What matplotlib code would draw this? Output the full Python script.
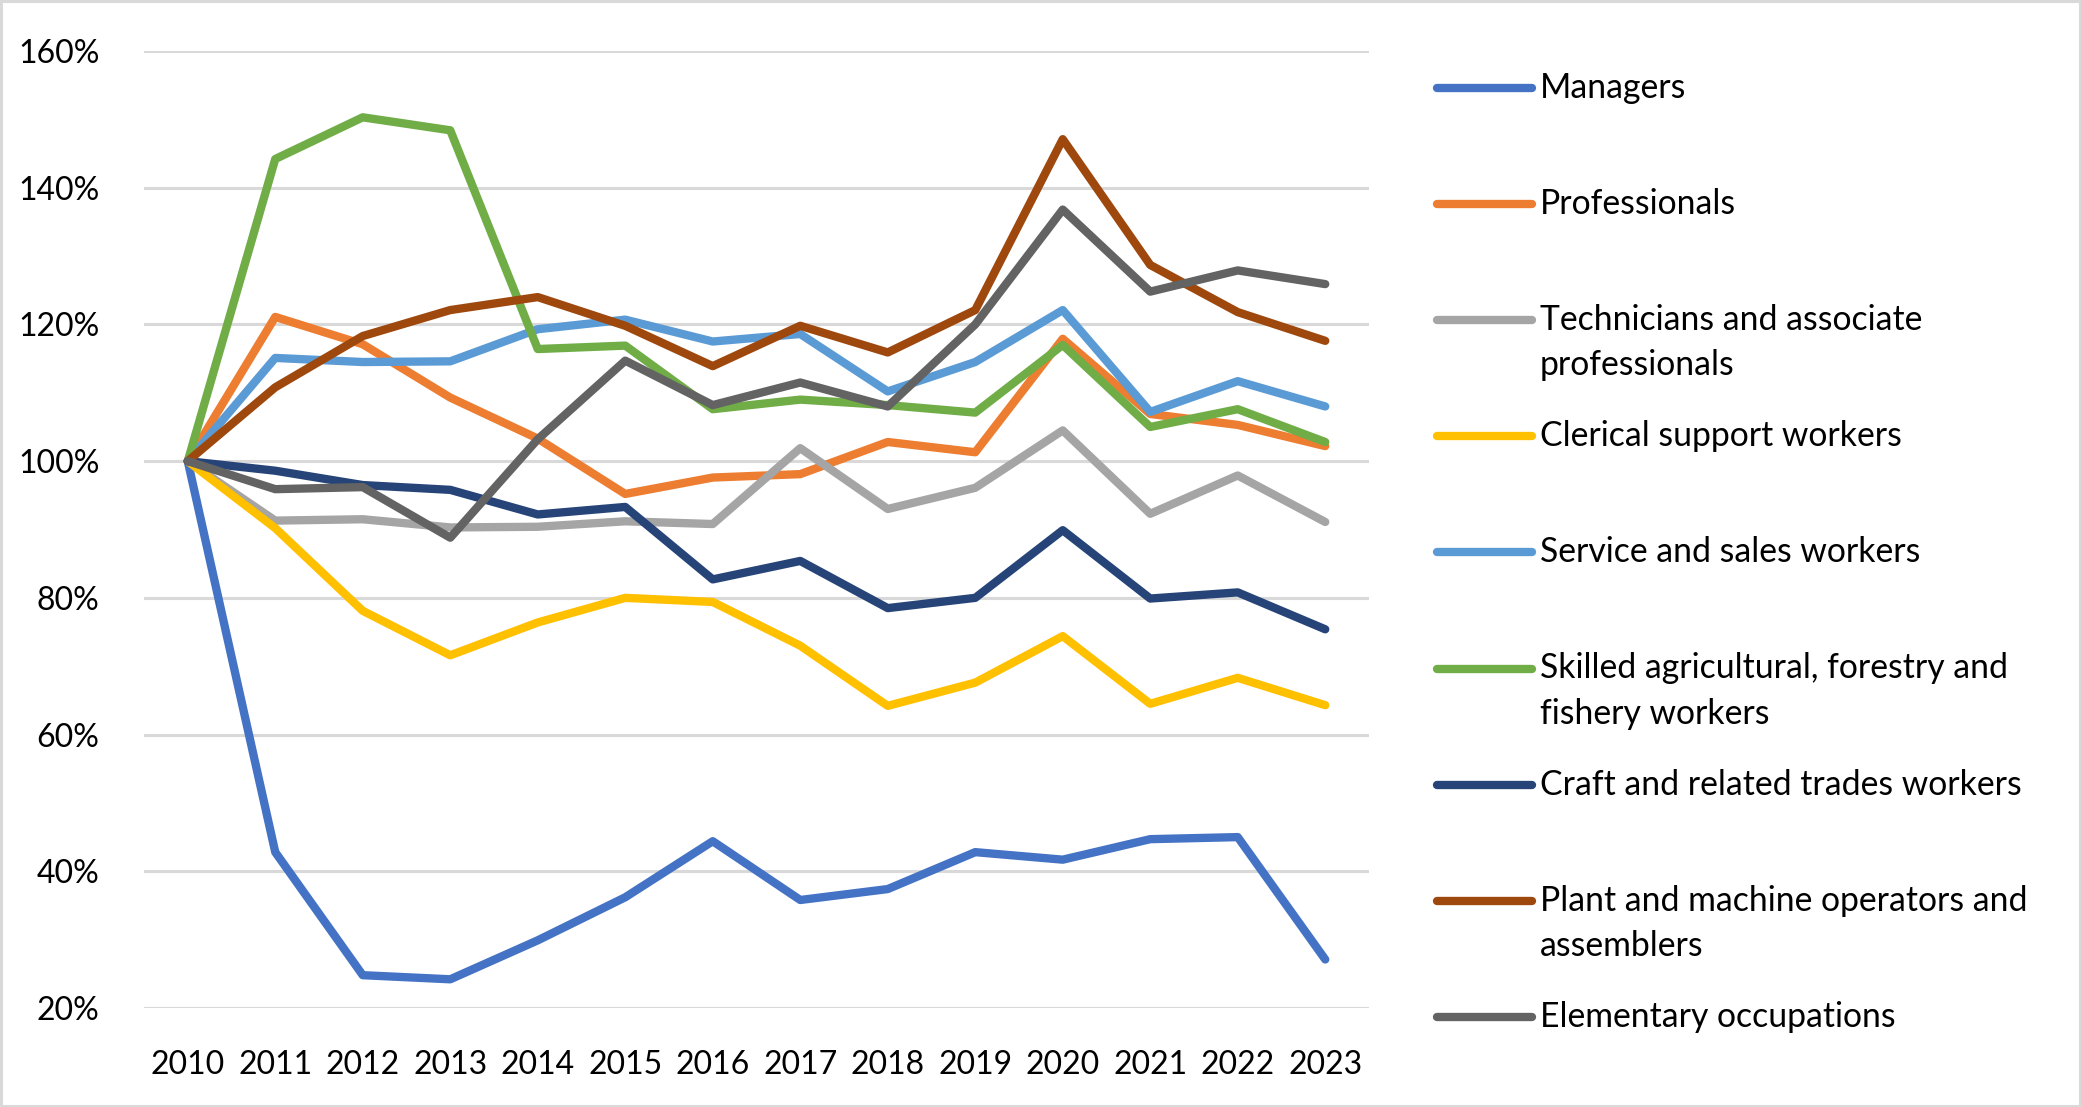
import matplotlib
matplotlib.use("Agg")
import matplotlib.pyplot as plt
from matplotlib.lines import Line2D
from matplotlib.patches import Rectangle
from matplotlib.ticker import FuncFormatter

plt.rcParams['font.family'] = ['Lato', 'DejaVu Sans']

years = list(range(2010, 2024))

# index, 2010 = 100%
managers = [100, 42.8, 24.8, 24.2, 29.9, 36.2, 44.4, 35.8, 37.4, 42.8, 41.7, 44.7, 45.0, 27.1]
professionals = [100, 121.1, 117.1, 109.3, 103.3, 95.2, 97.6, 98.1, 102.8, 101.3, 117.9, 106.9, 105.3, 102.2]
technicians = [100, 91.3, 91.5, 90.3, 90.4, 91.2, 90.8, 101.9, 93.0, 96.1, 104.5, 92.3, 97.9, 91.1]
clerical = [100, 90.2, 78.1, 71.6, 76.4, 80.0, 79.4, 73.0, 64.2, 67.6, 74.4, 64.5, 68.3, 64.3]
service = [100, 115.1, 114.5, 114.6, 119.3, 120.7, 117.5, 118.6, 110.2, 114.5, 122.1, 107.2, 111.7, 108.0]
skilled = [100, 144.2, 150.3, 148.4, 116.4, 116.9, 107.6, 109.0, 108.2, 107.1, 117.0, 105.0, 107.6, 102.8]
craft = [100, 98.6, 96.5, 95.8, 92.2, 93.3, 82.7, 85.4, 78.5, 80.0, 89.9, 79.9, 80.8, 75.4]
plant = [100, 110.8, 118.3, 122.1, 124.0, 119.8, 113.9, 119.8, 115.9, 122.1, 147.1, 128.7, 121.8, 117.6]
elementary = [100, 95.9, 96.2, 88.8, 103.2, 114.7, 108.2, 111.5, 108.0, 120.0, 136.8, 124.8, 127.9, 125.9]

series = [
    ("Managers", managers, "#4472C4"),
    ("Professionals", professionals, "#ED7D31"),
    ("Technicians and associate\nprofessionals", technicians, "#A5A5A5"),
    ("Clerical support workers", clerical, "#FFC000"),
    ("Service and sales workers", service, "#5B9BD5"),
    ("Skilled agricultural, forestry and\nfishery workers", skilled, "#70AD47"),
    ("Craft and related trades workers", craft, "#264478"),
    ("Plant and machine operators and\nassemblers", plant, "#9E480E"),
    ("Elementary occupations", elementary, "#636363"),
]

W, H = 2081, 1107
fig = plt.figure(figsize=(W / 100, H / 100), dpi=100)
ax = fig.add_axes([144 / W, 1 - 1008 / H, (1369 - 144) / W, (1008 - 51) / H])

for name, vals, col in series:
    ax.plot(years, vals, color=col, lw=6, solid_capstyle='round', solid_joinstyle='round', zorder=3)

ax.set_xlim(2009.5, 2023.5)
ax.set_ylim(20, 160)
ax.set_yticks(range(20, 161, 20))
ax.set_xticks(years)
ax.yaxis.set_major_formatter(FuncFormatter(lambda v, p: f"{int(v)}%"))
ax.grid(axis='y', color='#D9D9D9', lw=2.2, zorder=0)
for s in ax.spines.values():
    s.set_visible(False)
ax.tick_params(length=0, labelsize=23, colors='black')
ax.tick_params(axis='x', pad=30)
ax.tick_params(axis='y', pad=32)

# legend, drawn by hand so every entry gets the same height
px = lambda x, y: (x / W, 1 - y / H)
for i, (name, vals, col) in enumerate(series):
    y = 88 + 116.1 * i
    x0, y0 = px(1437, y)
    x1, _ = px(1532, y)
    fig.add_artist(Line2D([x0, x1], [y0, y0], color=col, lw=6, solid_capstyle='round'))
    for j, part in enumerate(name.split("\n")):
        tx, ty = px(1540, y + 45 * j)
        fig.text(tx, ty, part, fontsize=24.3, va='center', ha='left')

fig.add_artist(Rectangle((0.0007, 0.0012), 0.9986, 0.9976, transform=fig.transFigure,
                         fill=False, edgecolor='#D9D9D9', lw=2.2))

fig.savefig("out.png", dpi=100)
